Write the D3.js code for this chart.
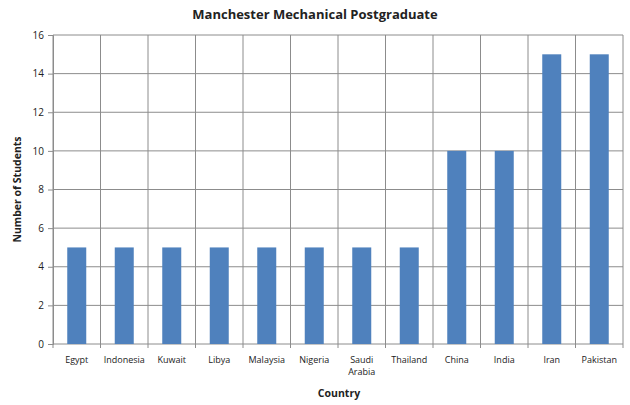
<!DOCTYPE html>
<html>
  <head>
    <meta charset="utf-8" />
    <title>Manchester Mechanical Postgraduate</title>
    <script src="https://cdn.jsdelivr.net/npm/d3@7"></script>
    <style>
      body { margin: 0; background: #fff; }
      text { font-family: "Open Sans", "Noto Sans", sans-serif; fill: #222; }
    </style>
  </head>
  <body>
    <script>
      const countries = ["Egypt", "Indonesia", "Kuwait", "Libya", "Malaysia", "Nigeria",
        "Saudi Arabia", "Thailand", "China", "India", "Iran", "Pakistan"];
      const students = [5, 5, 5, 5, 5, 5, 5, 5, 10, 10, 15, 15];
      const yTicks = [0, 2, 4, 6, 8, 10, 12, 14, 16];

      const w = 630;
      const h = 405;
      const plotLeft = 53, plotRight = 623, plotTop = 35, plotBottom = 344;

      const svg = d3.select("body").append("svg")
        .attr("width", w)
        .attr("height", h);

      const x = d3.scaleBand()
        .domain(countries)
        .range([plotLeft, plotRight])
        .paddingInner(0.6)
        .paddingOuter(0.3);

      // band boundaries for gridlines / ticks
      const step = (plotRight - plotLeft) / countries.length;

      const y = d3.scaleLinear()
        .domain([0, 16])
        .range([plotBottom, plotTop]);

      // horizontal gridlines
      svg.append("g")
        .selectAll("line")
        .data(yTicks)
        .enter().append("line")
        .attr("x1", plotLeft).attr("x2", plotRight)
        .attr("y1", d => y(d)).attr("y2", d => y(d))
        .attr("stroke", "#8c8c8c")
        .attr("stroke-width", 1);

      // vertical gridlines at category edges
      svg.append("g")
        .selectAll("line")
        .data(d3.range(countries.length + 1))
        .enter().append("line")
        .attr("x1", i => plotLeft + i * step).attr("x2", i => plotLeft + i * step)
        .attr("y1", plotTop).attr("y2", plotBottom + 4)
        .attr("stroke", "#8c8c8c")
        .attr("stroke-width", 1);

      // bars
      svg.selectAll("rect")
        .data(countries)
        .enter().append("rect")
        .attr("x", d => x(d))
        .attr("width", x.bandwidth())
        .attr("y", (d, i) => y(students[i]))
        .attr("height", (d, i) => y(0) - y(students[i]))
        .attr("fill", "#4f81bd");

      // y axis
      const yAxis = d3.axisLeft(y).tickValues(yTicks).tickSize(5).tickPadding(4);
      const gy = svg.append("g")
        .attr("transform", "translate(" + plotLeft + ",0)")
        .call(yAxis);
      gy.select(".domain").attr("stroke", "#8c8c8c");
      gy.selectAll(".tick line").attr("stroke", "#8c8c8c");
      gy.selectAll(".tick text").style("font-size", "10px").attr("fill", "#222");

      // x axis labels
      const labels = svg.append("g")
        .selectAll("text")
        .data(countries)
        .enter().append("text")
        .attr("text-anchor", "middle")
        .attr("x", d => x(d) + x.bandwidth() / 2)
        .attr("y", 363)
        .style("font-size", "9px");
      labels.each(function (d) {
        const parts = d === "Saudi Arabia" ? ["Saudi", "Arabia"] : [d];
        d3.select(this).selectAll("tspan")
          .data(parts)
          .enter().append("tspan")
          .attr("x", x(d) + x.bandwidth() / 2)
          .attr("dy", (p, i) => i === 0 ? 0 : 12)
          .text(p => p);
      });

      // title
      svg.append("text")
        .attr("x", 315).attr("y", 19)
        .attr("text-anchor", "middle")
        .style("font-size", "13px")
        .style("font-weight", "bold")
        .text("Manchester Mechanical Postgraduate");

      // axis titles
      svg.append("text")
        .attr("x", 339).attr("y", 397)
        .attr("text-anchor", "middle")
        .style("font-size", "10.5px")
        .style("font-weight", "bold")
        .text("Country");

      svg.append("text")
        .attr("transform", "translate(21," + ((plotTop + plotBottom) / 2) + ") rotate(-90)")
        .attr("text-anchor", "middle")
        .style("font-size", "10.5px")
        .style("font-weight", "bold")
        .text("Number of Students");
    </script>
  </body>
</html>
